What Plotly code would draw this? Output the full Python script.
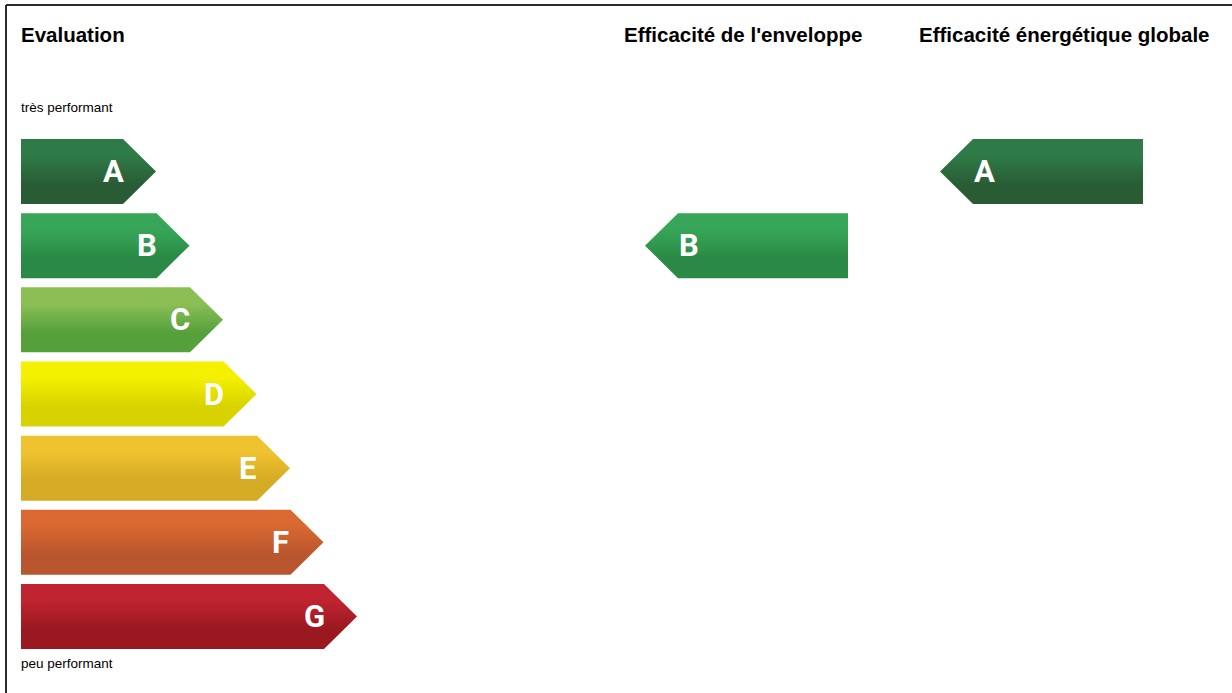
import plotly.graph_objects as go

# ---- data ----
categories = ["A", "B", "C", "D", "E", "F", "G"]
color_top = ["#2f7b47", "#37a659", "#8bbf56", "#f4f000", "#efc22f", "#d96831", "#bf2430"]
color_bottom = ["#295c35", "#2a8944", "#56a03c", "#d8d200", "#d5aa25", "#b9552f", "#9a1820"]
envelope_rating = "B"
global_rating = "A"
title_left = "Evaluation"
title_env = "Efficacité de l'enveloppe"
title_glob = "Efficacité énergétique globale"
label_top = "très performant"
label_bottom = "peu performant"

# ---- layout constants (pixel space) ----
W, H = 1232, 693
X0 = 21
RECT_END0 = 123
STEP_X = 33.5
TIP = 33
ROW_Y0 = 139
ROW_STEP = 74.17
ROW_H = 65

fig = go.Figure()

def grad(i):
    return dict(type="vertical",
                colorscale=[[0, color_top[i]], [0.25, color_top[i]],
                             [0.7, color_bottom[i]], [1, color_bottom[i]]])

def add_arrow(xs, ys, i, y0, y1):
    g = grad(i)
    g["start"] = y0
    g["stop"] = y1
    fig.add_trace(go.Scatter(x=xs, y=ys, mode="lines", fill="toself",
                             line=dict(width=0), fillgradient=g,
                             hoverinfo="skip", showlegend=False))

font_letter = dict(family="Roboto", size=31, color="white", weight="bold")

for i, c in enumerate(categories):
    y0 = ROW_Y0 + ROW_STEP * i
    y1 = y0 + ROW_H
    ym = (y0 + y1) / 2
    re = RECT_END0 + STEP_X * i
    tip = re + TIP
    add_arrow([X0, re, tip, re, X0, X0], [y0, y0, ym, y1, y1, y0], i, y0, y1)
    fig.add_annotation(x=tip - 43, y=ym, text=c, showarrow=False, font=font_letter,
                       xanchor="center", yanchor="middle")

def add_indicator(tip_x, right_x, rating):
    i = categories.index(rating)
    y0 = ROW_Y0 + ROW_STEP * i
    y1 = y0 + ROW_H
    ym = (y0 + y1) / 2
    lx = tip_x + TIP
    add_arrow([tip_x, lx, right_x, right_x, lx, tip_x], [ym, y0, y0, y1, y1, ym], i, y0, y1)
    fig.add_annotation(x=tip_x + 44, y=ym, text=rating, showarrow=False, font=font_letter,
                       xanchor="center", yanchor="middle")

add_indicator(645, 848, envelope_rating)
add_indicator(940, 1143, global_rating)

title_font = dict(family="Liberation Sans", size=20.5, color="black", weight="bold")
fig.add_annotation(x=X0 - 2, y=34, text=title_left, showarrow=False, font=title_font,
                   xanchor="left", yanchor="middle")
fig.add_annotation(x=743, y=34, text=title_env, showarrow=False, font=title_font,
                   xanchor="center", yanchor="middle")
fig.add_annotation(x=1064, y=34, text=title_glob, showarrow=False, font=title_font,
                   xanchor="center", yanchor="middle")
small_font = dict(family="Liberation Sans", size=13.5, color="black")
fig.add_annotation(x=X0 - 2, y=107, text=label_top, showarrow=False, font=small_font,
                   xanchor="left", yanchor="middle")
fig.add_annotation(x=X0 - 2, y=663, text=label_bottom, showarrow=False, font=small_font,
                   xanchor="left", yanchor="middle")

# frame (top and left edges)
fig.add_shape(type="line", xref="x", yref="y", x0=6, y0=5, x1=W, y1=5,
              line=dict(color="#2b2b2b", width=2))
fig.add_shape(type="line", xref="x", yref="y", x0=6, y0=5, x1=6, y1=H,
              line=dict(color="#2b2b2b", width=2))

fig.update_layout(
    width=W, height=H, margin=dict(l=0, r=0, t=0, b=0),
    paper_bgcolor="white", plot_bgcolor="white",
    xaxis=dict(range=[0, W], visible=False, fixedrange=True),
    yaxis=dict(range=[H, 0], visible=False, fixedrange=True),
    showlegend=False,
)
fig.write_html("out.html", config={"displayModeBar": False},
               post_script="document.body.style.margin='0';document.body.style.overflow='hidden';")
